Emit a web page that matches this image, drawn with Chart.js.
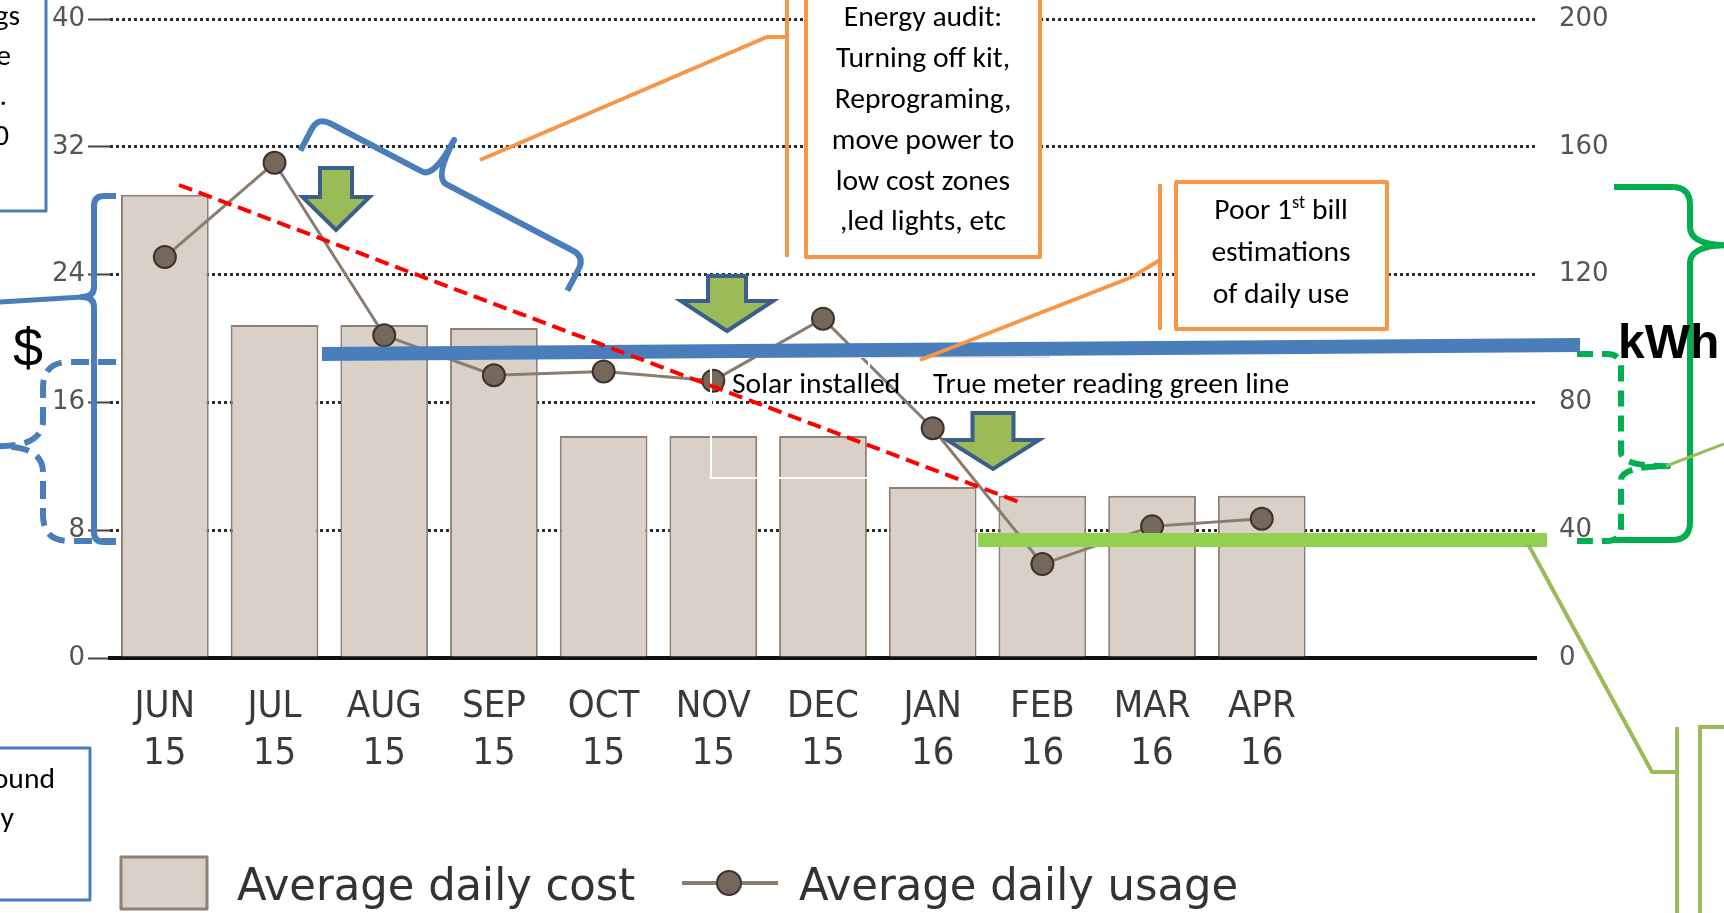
<!DOCTYPE html>
<html><head><meta charset="utf-8">
<script src="https://cdn.jsdelivr.net/npm/chart.js@4.4.1/dist/chart.umd.min.js"></script>
<style>html,body{margin:0;padding:0;background:#fff;overflow:hidden}#wrap{position:relative;width:1724px;height:913px}</style>
</head><body><div id="wrap"><canvas id="c" width="1724" height="913"></canvas></div>
<script>
// ---------- data ----------
const months = ['JUN','JUL','AUG','SEP','OCT','NOV','DEC','JAN','FEB','MAR','APR','',''];
const years  = ['15','15','15','15','15','15','15','16','16','16','16','',''];
const dailyCost  = [29.0, 20.85, 20.85, 20.65, 13.9, 13.9, 13.9, 10.7, 10.15, 10.15, 10.15, null, null];
const dailyUsage = [125.5, 155, 101, 88.5, 89.7, 86.8, 106.2, 71.9, 29.4, 41.2, 43.6, null, null];
const costTicks  = [0, 8, 16, 24, 32, 40];
const usageTicks = [0, 40, 80, 120, 160, 200];
const seriesNames = ['Average daily cost', 'Average daily usage'];

// ---------- styles ----------
const C = { bar:'#d9d0c7', barBorder:'#8f8075', line:'#8b7c70', point:'#76675b', pointBorder:'#3d332c',
  blue:'#4a7ebb', orange:'#f79646', green:'#00b050', lightGreen:'#92d050', olive:'#9bbb59', red:'#ff0000',
  arrowFill:'#9bbb59', arrowStroke:'#3a5f8b' };
const NOTE_FAMILY = "Carlito, Lato, 'Open Sans', sans-serif";

const canvas = document.getElementById('c');
const ctx0 = canvas.getContext('2d');
function fitSize(text, family, width, weight) {
  ctx0.font = (weight||'normal') + ' 100px ' + family;
  return 100 * width / ctx0.measureText(text).width;
}
const noteSize = fitSize('True meter reading green line', NOTE_FAMILY, 356);
const legendSize = fitSize(seriesNames[0], "'DejaVu Sans Condensed'", 398);

function brace(ctx, A, B, n, depth, tipFrac, tipLen, r) {
  const L = Math.hypot(B[0]-A[0], B[1]-A[1]);
  const ux = (B[0]-A[0])/L, uy = (B[1]-A[1])/L;
  const M = [A[0]+ux*L*tipFrac, A[1]+uy*L*tipFrac];
  const T = [M[0]+n[0]*tipLen, M[1]+n[1]*tipLen];
  ctx.beginPath();
  ctx.moveTo(A[0]-n[0]*depth, A[1]-n[1]*depth);
  ctx.lineTo(A[0]-n[0]*r, A[1]-n[1]*r);
  ctx.quadraticCurveTo(A[0], A[1], A[0]+ux*r, A[1]+uy*r);
  ctx.lineTo(M[0]-ux*r, M[1]-uy*r);
  ctx.quadraticCurveTo(M[0], M[1], T[0], T[1]);
  ctx.quadraticCurveTo(M[0], M[1], M[0]+ux*r, M[1]+uy*r);
  ctx.lineTo(B[0]-ux*r, B[1]-uy*r);
  ctx.quadraticCurveTo(B[0], B[1], B[0]-n[0]*r, B[1]-n[1]*r);
  ctx.lineTo(B[0]-n[0]*depth, B[1]-n[1]*depth);
  ctx.stroke();
  return T;
}
function poly(ctx, pts, color, w, dash) {
  ctx.save(); ctx.strokeStyle = color; ctx.lineWidth = w; ctx.setLineDash(dash||[]);
  ctx.lineJoin = 'miter';
  ctx.beginPath(); pts.forEach((p,i)=> i? ctx.lineTo(p[0],p[1]) : ctx.moveTo(p[0],p[1])); ctx.stroke(); ctx.restore();
}
function box(ctx, x0, y0, x1, y1, color, w) {
  ctx.save(); ctx.fillStyle = '#fff'; ctx.fillRect(x0, y0, x1-x0, y1-y0);
  ctx.strokeStyle = color; ctx.lineWidth = w; ctx.strokeRect(x0, y0, x1-x0, y1-y0); ctx.restore();
}
function arrow(ctx, cx, top, shaftW, headY, headW, tipY) {
  ctx.save(); ctx.fillStyle = C.arrowFill; ctx.strokeStyle = C.arrowStroke; ctx.lineWidth = 4; ctx.lineJoin = 'miter';
  ctx.beginPath();
  ctx.moveTo(cx-shaftW/2, top); ctx.lineTo(cx+shaftW/2, top); ctx.lineTo(cx+shaftW/2, headY);
  ctx.lineTo(cx+headW/2, headY); ctx.lineTo(cx, tipY); ctx.lineTo(cx-headW/2, headY); ctx.lineTo(cx-shaftW/2, headY);
  ctx.closePath(); ctx.fill(); ctx.stroke(); ctx.restore();
}
function text(ctx, s, x, y, align, font, color) {
  ctx.save(); ctx.font = font; ctx.fillStyle = color||'#000'; ctx.textAlign = align; ctx.textBaseline = 'middle';
  ctx.fillText(s, x, y); ctx.restore();
}

const notesPlugin = {
  id: 'notes',
  afterDraw(chart) {
    const ctx = chart.ctx;
    const nf = noteSize.toFixed(1) + 'px ' + NOTE_FAMILY;
    ctx.save();
    ctx.lineCap = 'butt';

    // thin white frame near "Solar installed"
    poly(ctx, [[711,357],[1050,357]], '#e2e2e2', 2);
    poly(ctx, [[711,357],[711,478],[869,478],[869,357]], '#ffffff', 2);

    // blue braces
    ctx.strokeStyle = C.blue; ctx.lineWidth = 6; ctx.lineJoin = 'round';
    brace(ctx, [318,117], [585,257], [0.464,-0.885], 38, 0.435, 43, 14);
    const t1 = brace(ctx, [94,196], [94,542], [-1,0], 22, 0.292, 12, 10);
    poly(ctx, [t1, [0,302]], C.blue, 5);
    ctx.save(); ctx.setLineDash([18,9]); ctx.strokeStyle = C.blue; ctx.lineWidth = 6;
    brace(ctx, [43,362], [43,541], [-1,0], 73, 0.47, 43, 26);
    ctx.restore();

    // green braces (right)
    ctx.strokeStyle = C.green; ctx.lineWidth = 6;
    brace(ctx, [1690,187], [1690,540], [1,0], 76, 0.165, 40, 18);
    ctx.save(); ctx.setLineDash([16,9]); ctx.strokeStyle = C.green; ctx.lineWidth = 6;
    brace(ctx, [1621,354], [1621,541], [1,0], 44, 0.60, 47, 14);
    ctx.restore();
    poly(ctx, [[1666,466],[1724,444]], C.olive, 3);

    // thick lines
    poly(ctx, [[322,354],[1580,345]], C.blue, 14);
    poly(ctx, [[978,540],[1547,540]], C.lightGreen, 14);
    poly(ctx, [[179,185],[1019,502]], C.red, 4, [14,7]);

    // olive callout bottom right
    poly(ctx, [[1528,544],[1652,772],[1677,772]], C.olive, 4);
    poly(ctx, [[1677,727],[1677,913]], C.olive, 4);
    poly(ctx, [[1724,727],[1700,727],[1700,913]], C.olive, 4);

    // arrows
    arrow(ctx, 336, 168, 32, 197, 67, 230);
    arrow(ctx, 727, 276, 38, 301, 92, 331);
    arrow(ctx, 993, 413, 41, 440, 92, 469);

    // orange callouts
    poly(ctx, [[480,160],[767,37],[787,37]], C.orange, 4);
    poly(ctx, [[787,0],[787,257]], C.orange, 4);
    box(ctx, 806, -10, 1040, 257, C.orange, 4);
    const audit = ['Energy audit:', 'Turning off kit,', 'Reprograming,', 'move power to', 'low cost zones', ',led lights, etc'];
    audit.forEach((s,i)=> text(ctx, s, 923, 19 + i*40.8, 'center', nf));

    poly(ctx, [[1160,260],[1132,277],[920,360]], C.orange, 4);
    poly(ctx, [[1160,184],[1160,330]], C.orange, 4);
    box(ctx, 1176, 182, 1387, 329, C.orange, 4);
    // "Poor 1st bill" with superscript
    ctx.save(); ctx.font = nf; ctx.textBaseline = 'middle'; ctx.fillStyle = '#000';
    const supF = (noteSize*0.62).toFixed(1) + 'px ' + NOTE_FAMILY;
    const a = 'Poor 1', b = 'st', c = ' bill';
    const wa = ctx.measureText(a).width, wc = ctx.measureText(c).width;
    ctx.font = supF; const wb = ctx.measureText(b).width;
    let x = 1281 - (wa+wb+wc)/2;
    ctx.font = nf; ctx.fillText(a, x, 212); x += wa;
    ctx.font = supF; ctx.fillText(b, x, 203); x += wb;
    ctx.font = nf; ctx.fillText(c, x, 212);
    ctx.restore();
    text(ctx, 'estimations', 1281, 254, 'center', nf);
    text(ctx, 'of daily use', 1281, 296, 'center', nf);

    text(ctx, 'Solar installed', 732, 386, 'left', nf);
    text(ctx, 'True meter reading green line', 933, 386, 'left', nf);

    // partially visible boxes at left edge
    box(ctx, -10, -10, 46, 211, C.blue, 3);
    text(ctx, 'gs', 20, 18, 'right', nf);
    text(ctx, 'e', 11, 58, 'right', nf);
    text(ctx, '.', 7, 98, 'right', nf);
    text(ctx, '0', 9, 138, 'right', nf);
    box(ctx, -10, 748, 90, 900, C.blue, 3);
    text(ctx, 'ound', 55, 781, 'right', nf);
    text(ctx, 'y', 14, 820, 'right', nf);

    // axis unit symbols
    ctx.save(); ctx.fillStyle = '#000'; ctx.textBaseline = 'alphabetic';
    ctx.font = '54px "Liberation Sans", Arial, sans-serif'; ctx.textAlign = 'center';
    ctx.fillText('$', 28, 366);
    ctx.font = 'bold 48px "Liberation Sans", Arial, sans-serif'; ctx.textAlign = 'left';
    ctx.fillText('kWh', 1618, 358);
    ctx.restore();

    // legend
    ctx.save();
    ctx.fillStyle = C.bar; ctx.strokeStyle = C.barBorder; ctx.lineWidth = 3;
    ctx.fillRect(121, 857, 86, 52); ctx.strokeRect(121, 857, 86, 52);
    poly(ctx, [[682,883],[778,883]], C.line, 4);
    ctx.beginPath(); ctx.arc(729, 883, 12, 0, Math.PI*2); ctx.fillStyle = C.point; ctx.fill();
    ctx.lineWidth = 2; ctx.strokeStyle = C.pointBorder; ctx.stroke();
    ctx.fillStyle = '#333'; ctx.textBaseline = 'alphabetic'; ctx.textAlign = 'left';
    ctx.font = legendSize.toFixed(1) + "px 'DejaVu Sans Condensed'";
    const sy = 33 / (0.729 * legendSize);
    ctx.save(); ctx.translate(237, 900); ctx.scale(1, sy); ctx.fillText(seriesNames[0], 0, 0); ctx.restore();
    ctx.save(); ctx.translate(799, 900); ctx.scale(1, sy); ctx.fillText(seriesNames[1], 0, 0); ctx.restore();
    ctx.restore();

    ctx.restore();
  }
};

const tickFont = { family: "'DejaVu Sans'", size: 26 };
new Chart(canvas, {
  data: {
    labels: months.map((m,i)=> m ? [m, years[i]] : ''),
    datasets: [
      { type:'line', label: seriesNames[1], data: dailyUsage, yAxisID:'y1', order:0,
        borderColor:C.line, borderWidth:3, pointRadius:11, pointHoverRadius:11,
        pointBackgroundColor:C.point, pointBorderColor:C.pointBorder, pointBorderWidth:2, tension:0 },
      { type:'bar', label: seriesNames[0], data: dailyCost, yAxisID:'y', order:1,
        backgroundColor:C.bar, borderColor:C.barBorder, borderWidth:2, barPercentage:0.8, categoryPercentage:1 }
    ]
  },
  options: {
    responsive:false, animation:false, devicePixelRatio:1,
    layout:{ padding:{ top:19, left:0, right:0, bottom:0 } },
    plugins:{ legend:{ display:false }, tooltip:{ enabled:false } },
    scales:{
      x:{ grid:{ display:false, drawTicks:false }, border:{ display:true, color:'#111', width:4 },
          ticks:{ padding:26, color:'#3a3a3a', maxRotation:0, autoSkip:false,
                  font:{ family:"'DejaVu Sans Condensed'", size:38, lineHeight:1.237 } },
          afterFit(s){ s.height = 255; } },
      y:{ position:'left', min:0, max:40,
          afterBuildTicks(s){ s.ticks = costTicks.map(v=>({value:v})); },
          grid:{ color:(c)=> c.tick && c.tick.value===0 ? 'rgba(0,0,0,0)' : '#2b2b2b', lineWidth:3,
                 drawTicks:true, tickLength:22, tickColor:'#444', tickWidth:2, tickBorderDash:[] },
          border:{ display:false, dash:[3,3] },
          ticks:{ padding:3, color:'#555', font:tickFont },
          afterFit(s){ s.width = 110; } },
      y1:{ position:'right', min:0, max:200,
          afterBuildTicks(s){ s.ticks = usageTicks.map(v=>({value:v})); },
          grid:{ drawOnChartArea:false, drawTicks:true, tickLength:20, tickColor:'rgba(0,0,0,0)' },
          border:{ display:false },
          ticks:{ padding:3, color:'#555', font:tickFont },
          afterFit(s){ s.width = 188; } }
    }
  },
  plugins:[notesPlugin]
});
</script></body></html>
